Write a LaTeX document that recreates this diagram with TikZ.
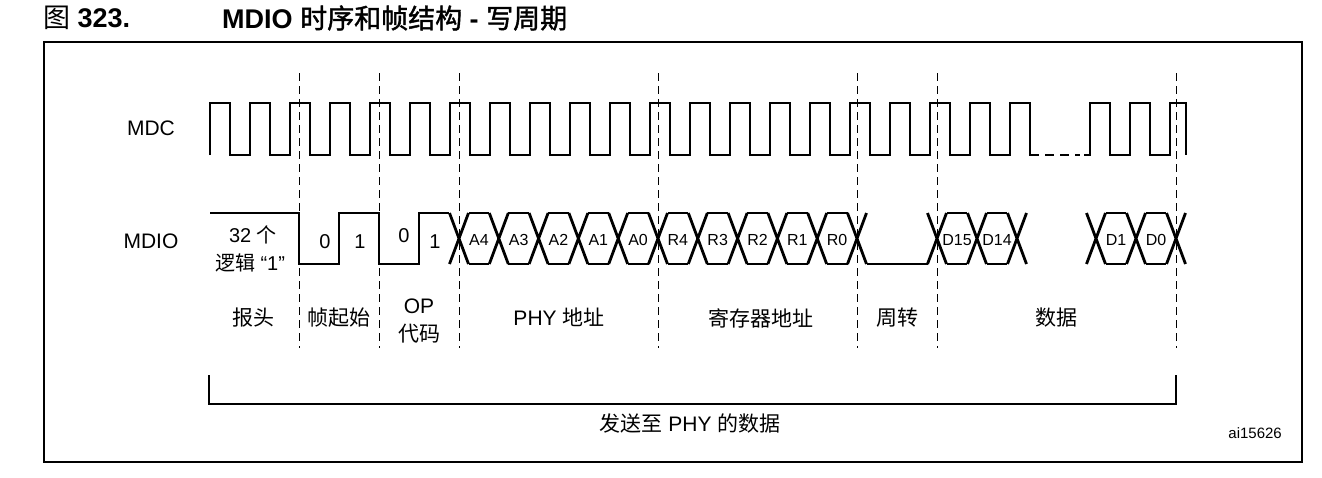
\documentclass[tikz,border=0pt]{standalone}
\usepackage{fontspec}
\setmainfont{Liberation Sans}
\newfontfamily\cjk{Noto Sans CJK SC}
\newfontfamily\cjkb{Noto Sans CJK SC}[FakeBold=1.5]
\begin{document}
\begin{tikzpicture}[x=1pt,y=-1pt,
  wave/.style={line width=2.8pt,line join=miter},
  sep/.style={line width=1pt,dash pattern=on 8pt off 5pt},
  lab/.style={font=\fontsize{21}{23}\selectfont,inner sep=0pt},
  bit/.style={font=\fontsize{20}{22}\selectfont,inner sep=0pt},
  cell/.style={font=\fontsize{16}{18}\selectfont,inner sep=0pt},
  reg/.style={font=\fontsize{21}{23}\selectfont,inner sep=0pt,align=center}]
\useasboundingbox (0,0) rectangle (1322,477);
% title
\node[anchor=west,inner sep=0pt,font=\fontsize{27}{29}\selectfont] (t1) at (43,18) {{\cjk 图} \textbf{323.}};
\node[anchor=west,inner sep=0pt,font=\fontsize{27}{29}\selectfont] (t2) at (222,18) {\textbf{MDIO} {\cjkb 时序和帧结构} \textbf{-} {\cjkb 写周期}};
% frame
\draw[line width=2.2pt] (44,42) rectangle (1302,462);
% dashed separators
\foreach \x in {299,379,459,658,857,937,1176} \draw[sep] (\x,73) -- (\x,348);
% MDC
\node[lab] (mdc) at (151,128) {MDC};
\draw[wave] (210,155) foreach \k in {0,...,20}{ -- ({210+40*\k},155) -- ({210+40*\k},103) -- ({230+40*\k},103) -- ({230+40*\k},155)} -- (1039,155);
\draw[line width=2.8pt,dash pattern=on 9pt off 6pt] (1045,155) -- (1080,155);
\draw[wave] (1084,155) -- (1090,155) -- (1090,103) -- (1110,103) -- (1110,155) -- (1130,155) -- (1130,103) -- (1150,103) -- (1150,155) -- (1170,155) -- (1170,103) -- (1186,103) -- (1186,155);
% MDIO
\node[lab] (mdio) at (151,241) {MDIO};
\def\H{213}\def\L{264}
\draw[wave] (210,\H) -- (299,\H) -- (299,\L) -- (339,\L) -- (339,\H) -- (379,\H) -- (379,\L) -- (419,\L) -- (419,\H) -- (449,\H);
\foreach \c in {459,498.8,538.6,578.4,618.2,658,697.8,737.6,777.4,817.2,857,937,977,1017,1096,1136,1176}{
  \draw[wave] (\c-9.5,\H) -- (\c+9.5,\L) (\c-9.5,\L) -- (\c+9.5,\H);}
\foreach \c in {459,498.8,538.6,578.4,618.2,658,697.8,737.6,777.4,817.2,937,977,1096,1136}{
  \draw[wave] (\c+9.5,\H) -- (\c+30.3,\H) (\c+9.5,\L) -- (\c+30.3,\L);}
\draw[wave] (866.5,\L) -- (927.5,\L);
% labels in MDIO
\node[bit] (p1) at (253,235) {32 {\cjk 个}};
\node[bit] (p2) at (250,263) {{\cjk 逻辑} “1”};
\node[bit] (b1) at (325,242) {0};
\node[bit] (b2) at (360,242) {1};
\node[bit] (b3) at (404,236) {0};
\node[bit] (b4) at (435,242) {1};
\foreach \n [count=\i from 0] in {A4,A3,A2,A1,A0,R4,R3,R2,R1,R0}
  \node[cell] (c\i) at ({478.9+39.8*\i},240) {\n};
\node[cell] (d15) at (957,240) {D15};
\node[cell] (d14) at (997,240) {D14};
\node[cell] (d1) at (1116,240) {D1};
\node[cell] (d0) at (1156,240) {D0};
% field names
\node[reg] (f1) at (253,318) {\cjk 报头};
\node[reg] (f2) at (339,318) {\cjk 帧起始};
\node[reg] (f3a) at (419,306) {OP};
\node[reg] (f3b) at (419,334) {\cjk 代码};
\node[reg] (f4) at (559,317) {PHY {\cjk 地址}};
\node[reg] (f5) at (761,318) {\cjk 寄存器地址};
\node[reg] (f6) at (897,318) {\cjk 周转};
\node[reg] (f7) at (1056,318) {\cjk 数据};
% bracket
\coordinate (bl) at (209,375);
\coordinate (br) at (1176,375);
\draw[line width=1.2pt] (bl) -- (209,404) -- (1176,404) -- (br);
\node[reg] (tx) at (690,424) {{\cjk 发送至} PHY {\cjk 的数据}};
\node[font=\fontsize{15}{17}\selectfont,inner sep=0pt,anchor=east] (id) at (1282,433) {ai15626};
\end{tikzpicture}
\end{document}
